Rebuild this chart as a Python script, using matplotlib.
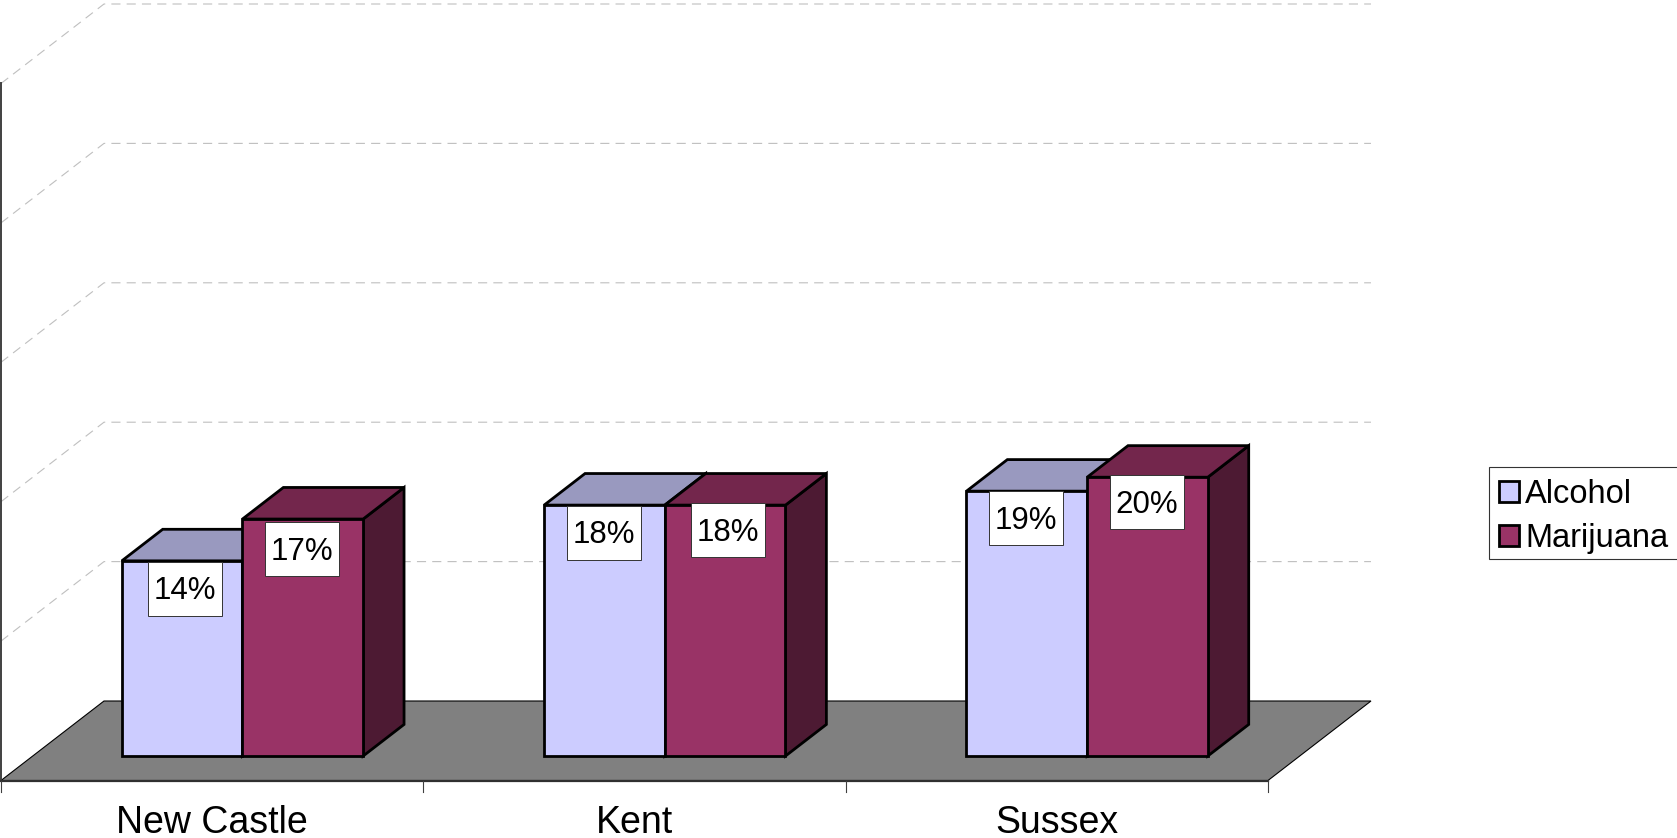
import matplotlib
matplotlib.use("Agg")
import matplotlib.pyplot as plt
from matplotlib.patches import Polygon, Rectangle, Patch

plt.rcParams['font.family'] = ['Liberation Sans', 'DejaVu Sans']

# ---- data ----
categories = ["New Castle", "Kent", "Sussex"]
alcohol = [14, 18, 19]
marijuana = [17, 18, 20]
gridlines = [10, 20, 30, 40, 50]
series_names = ["Alcohol", "Marijuana"]

# ---- style / layout ----
W, H, DPI = 1677, 838, 100
PX_X = 422.33          # pixels per category
PX_Y = 13.94           # pixels per percent
X0_PX, Y0_PX = 1.0, 780.5
DEPTH_X = 103 / PX_X   # full floor depth, in x units
DEPTH_Y = 79.5 / PX_Y  # full floor depth, in y units
BAR_W = 1 / 3.5
MARGIN = 0.75 * BAR_W - 1.4 / PX_X
D_FRONT, D_BACK = 0.308, 0.705
COL = {"Alcohol": ("#CCCCFF", "#9999BF", "#66667F"),
       "Marijuana": ("#993366", "#73264C", "#4D1A33")}
NUDGE_X = [[2.7, -1.3], [-0.3, 3.2], [-0.8, -0.8]]   # label box x nudge, px
NUDGE_Y = [[1, 3], [0.5, -2], [0, -2]]               # label box drop below bar top, px
BOX_W, BOX_H = 74 / PX_X, 54 / PX_Y

fig = plt.figure(figsize=(W / DPI, H / DPI), dpi=DPI, facecolor="white")
ax = fig.add_axes([0, 0, 1, 1])
ax.set_xlim(-X0_PX / PX_X, (W - X0_PX) / PX_X)
ax.set_ylim((Y0_PX - H) / PX_Y, Y0_PX / PX_Y)
ax.axis("off")


def proj(x, v, d):
    return (x + d * DEPTH_X, v + d * DEPTH_Y)


n = len(categories)
vmax = gridlines[-1]

# floor
ax.add_patch(Polygon([proj(0, 0, 0), proj(n, 0, 0), proj(n, 0, 1), proj(0, 0, 1)],
                     closed=True, fc="#808080", ec="black", lw=0.8, zorder=1, clip_on=False))

# gridlines on side and back walls
for g in gridlines:
    pts = [proj(0, g, 0), proj(0, g, 1), proj(n, g, 1)]
    ax.plot(*zip(*pts), color="#BFBFBF", lw=0.8, ls=(0, (8.2, 5.55)), zorder=0.5, clip_on=False)

# axes lines and ticks
ax.plot([0, 0], [0, vmax], color="#404040", lw=1.4, zorder=2, clip_on=False)
ax.plot([0, n], [0, 0], color="#303030", lw=1.6, zorder=2, clip_on=False)
for i in range(n + 1):
    ax.plot([i, i], [0, -11.5 / PX_Y], color="#404040", lw=0.8, zorder=2, clip_on=False)
for i, c in enumerate(categories):
    ax.text(i + 0.5, -52.5 / PX_Y, c, ha="center", va="baseline", fontsize=27, color="black")


def box3d(x0, x1, v, cols, z):
    front, top, side = cols
    kw = dict(closed=True, ec="black", lw=2.0, joinstyle="miter", zorder=z)
    ax.add_patch(Polygon([proj(x1, 0, D_FRONT), proj(x1, 0, D_BACK), proj(x1, v, D_BACK), proj(x1, v, D_FRONT)],
                         fc=side, **kw))
    ax.add_patch(Polygon([proj(x0, v, D_FRONT), proj(x1, v, D_FRONT), proj(x1, v, D_BACK), proj(x0, v, D_BACK)],
                         fc=top, **kw))
    ax.add_patch(Polygon([proj(x0, 0, D_FRONT), proj(x1, 0, D_FRONT), proj(x1, v, D_FRONT), proj(x0, v, D_FRONT)],
                         fc=front, **kw))


z = 3
labels = []
for i in range(n):
    for j, (name, vals) in enumerate(zip(series_names, [alcohol, marijuana])):
        x0 = i + MARGIN + j * BAR_W
        box3d(x0, x0 + BAR_W, vals[i], COL[name], z)
        z += 1
        cx, top = proj(x0 + BAR_W / 2, vals[i], D_FRONT)
        labels.append((cx + NUDGE_X[i][j] / PX_X, top - NUDGE_Y[i][j] / PX_Y, vals[i]))

for cx, top, v in labels:
    ax.add_patch(Rectangle((cx - BOX_W / 2, top - BOX_H), BOX_W, BOX_H, fc="white", ec="#333333",
                           lw=0.7, zorder=50))
    ax.text(cx, top - BOX_H / 2 + 1 / PX_Y, f"{v}%", ha="center", va="center_baseline", fontsize=22.5,
            color="black", zorder=51)

# legend: frame drawn separately so its padding can match the reference
fig.add_artist(Rectangle((1489 / W, 1 - 559 / H), 200 / W, 92 / H, transform=fig.transFigure,
                         fc="white", ec="#333333", lw=0.8, zorder=5))
handles = [Patch(fc=COL[s][0], ec="black", lw=2.0, label=s) for s in series_names]
leg = fig.legend(handles=handles, loc="lower left",
                 bbox_to_anchor=(1489 / W, 1 - 564.5 / H), bbox_transform=fig.transFigure,
                 borderaxespad=0, fontsize=23.5, frameon=False,
                 handlelength=0.62, handleheight=0.62, handletextpad=0.18, labelspacing=0.42,
                 borderpad=0.31)
leg.set_zorder(6)

fig.savefig("out.png", dpi=DPI, facecolor="white")
